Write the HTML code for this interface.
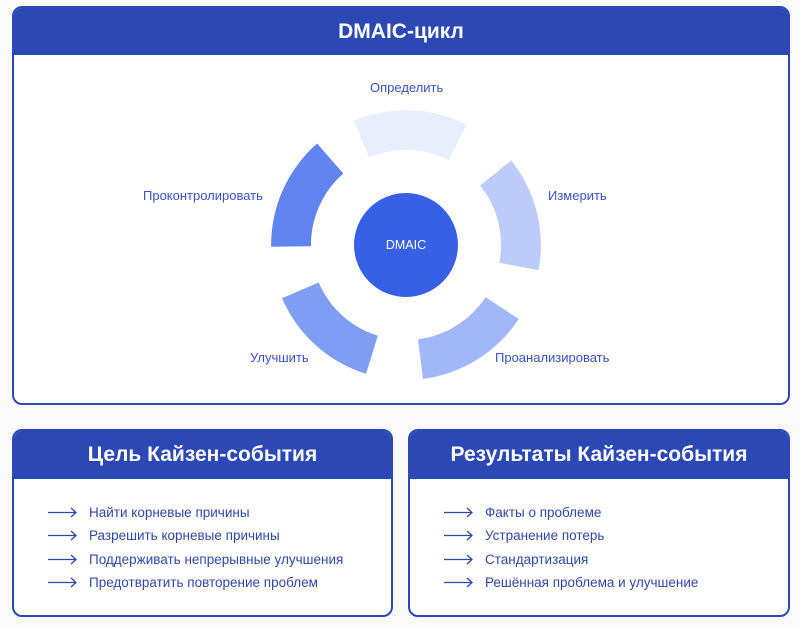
<!DOCTYPE html>
<html><head><meta charset="utf-8"><style>
body{margin:0;width:800px;height:628px;background:#fafafa;position:relative;overflow:hidden;font-family:"Liberation Sans","DejaVu Sans",sans-serif}
.p{position:absolute;border:2px solid #2b48b5;border-radius:10px;background:#fff;overflow:hidden;box-sizing:border-box}
.h{background:#2b48b5;color:#fff;font-weight:bold;text-align:center}
.l{position:absolute;color:#3652c4;font-size:13px;white-space:nowrap}
.r{position:absolute;font-size:13.5px;color:#2f47a8;white-space:nowrap}
</style></head><body>
<div class="p" style="left:12px;top:6px;width:778px;height:399px">
<div class="h" style="height:47px;line-height:47px;font-size:21px">DMAIC-цикл</div>
</div>
<div class="p" style="left:12px;top:429px;width:381px;height:188px">
<div class="h" style="height:48px;line-height:48px;font-size:21px">Цель Кайзен-события</div>
</div>
<div class="p" style="left:408px;top:429px;width:382px;height:188px">
<div class="h" style="height:48px;line-height:48px;font-size:21px">Результаты Кайзен-события</div>
</div>
<svg style="position:absolute;left:0;top:0" width="800" height="628">
<g transform="translate(406,245)">
<path d="M-56.5 -122.5 A135 135 0 0 1 56.5 -122.5 L39.8 -86.3 A95 95 0 0 0 -39.8 -86.3 Z" fill="#e8eefc" transform="rotate(2)"/>
<path d="M-56.5 -122.5 A135 135 0 0 1 56.5 -122.5 L39.8 -86.3 A95 95 0 0 0 -39.8 -86.3 Z" fill="#bccbf9" transform="rotate(76)"/>
<path d="M-56.5 -122.5 A135 135 0 0 1 56.5 -122.5 L39.8 -86.3 A95 95 0 0 0 -39.8 -86.3 Z" fill="#a2b7f7" transform="rotate(148)"/>
<path d="M-56.5 -122.5 A135 135 0 0 1 56.5 -122.5 L39.8 -86.3 A95 95 0 0 0 -39.8 -86.3 Z" fill="#809df4" transform="rotate(222)"/>
<path d="M-56.5 -122.5 A135 135 0 0 1 56.5 -122.5 L39.8 -86.3 A95 95 0 0 0 -39.8 -86.3 Z" fill="#6185f0" transform="rotate(294)"/>
<circle r="52" fill="#3760e6"/>
<text y="4" text-anchor="middle" fill="#fff" font-size="12.5" font-family="Liberation Sans,sans-serif">DMAIC</text>
</g>
<g stroke="#2f47a8" stroke-width="1.3" fill="none">
<path d="M48 512.5H76M71 508L76 512.5L71 517"/>
<path d="M48 535.5H76M71 531L76 535.5L71 540"/>
<path d="M48 559.5H76M71 555L76 559.5L71 564"/>
<path d="M48 582.5H76M71 578L76 582.5L71 587"/>
<path d="M444 512.5H472M467 508L472 512.5L467 517"/>
<path d="M444 535.5H472M467 531L472 535.5L467 540"/>
<path d="M444 559.5H472M467 555L472 559.5L467 564"/>
<path d="M444 582.5H472M467 578L472 582.5L467 587"/>
</g>
</svg>
<div class="l" style="left:370px;top:80px">Определить</div>
<div class="l" style="left:548px;top:188px">Измерить</div>
<div class="l" style="left:143px;top:188px">Проконтролировать</div>
<div class="l" style="left:250px;top:350px">Улучшить</div>
<div class="l" style="left:495px;top:350px">Проанализировать</div>
<div class="r" style="left:89px;top:505px">Найти корневые причины</div>
<div class="r" style="left:89px;top:528px">Разрешить корневые причины</div>
<div class="r" style="left:89px;top:552px">Поддерживать непрерывные улучшения</div>
<div class="r" style="left:89px;top:575px">Предотвратить повторение проблем</div>
<div class="r" style="left:485px;top:505px">Факты о проблеме</div>
<div class="r" style="left:485px;top:528px">Устранение потерь</div>
<div class="r" style="left:485px;top:552px">Стандартизация</div>
<div class="r" style="left:485px;top:575px">Решённая проблема и улучшение</div>
</body></html>
